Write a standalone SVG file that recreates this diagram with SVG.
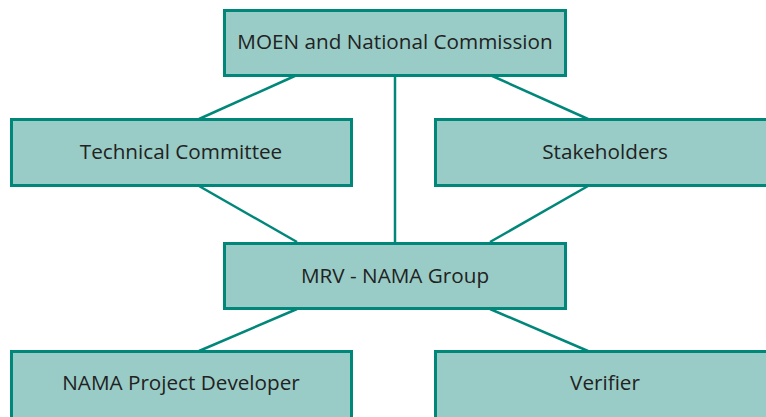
<svg xmlns="http://www.w3.org/2000/svg" width="766" height="417" viewBox="0 0 766 417">
<style>
.box{fill:#99ccc6;stroke:#00877a;stroke-width:3}
.lbl{font-family:"Open Sans","Liberation Sans",sans-serif;font-size:20.7px;fill:#222;text-anchor:middle;dominant-baseline:central}
.con line{stroke:#00877a;stroke-width:2.5}
</style>
<rect width="766" height="417" fill="#fff"/>
<g id="connectors" class="con">
<line x1="297" y1="75" x2="199" y2="119"/>
<line x1="395" y1="75" x2="395" y2="242"/>
<line x1="490" y1="75" x2="588" y2="119"/>
<line x1="199" y1="186" x2="297" y2="242"/>
<line x1="588" y1="186" x2="490" y2="242"/>
<line x1="297" y1="309" x2="199" y2="351"/>
<line x1="490" y1="309" x2="588" y2="351"/>
</g>
<g id="moen"><rect class="box" x="224.5" y="10.5" width="341" height="65"/><text class="lbl" x="395" y="41">MOEN and National Commission</text></g>
<g id="tech"><rect class="box" x="11.5" y="119.5" width="340" height="66"/><text class="lbl" x="181" y="151">Technical Committee</text></g>
<g id="stake"><rect class="box" x="435.5" y="119.5" width="340" height="66"/><text class="lbl" x="605" y="151">Stakeholders</text></g>
<g id="mrv"><rect class="box" x="224.5" y="243.5" width="341" height="65"/><text class="lbl" x="395" y="275">MRV - NAMA Group</text></g>
<g id="dev"><rect class="box" x="11.5" y="351.5" width="340" height="80"/><text class="lbl" x="181" y="382">NAMA Project Developer</text></g>
<g id="ver"><rect class="box" x="435.5" y="351.5" width="340" height="80"/><text class="lbl" x="605" y="382">Verifier</text></g>
</svg>
